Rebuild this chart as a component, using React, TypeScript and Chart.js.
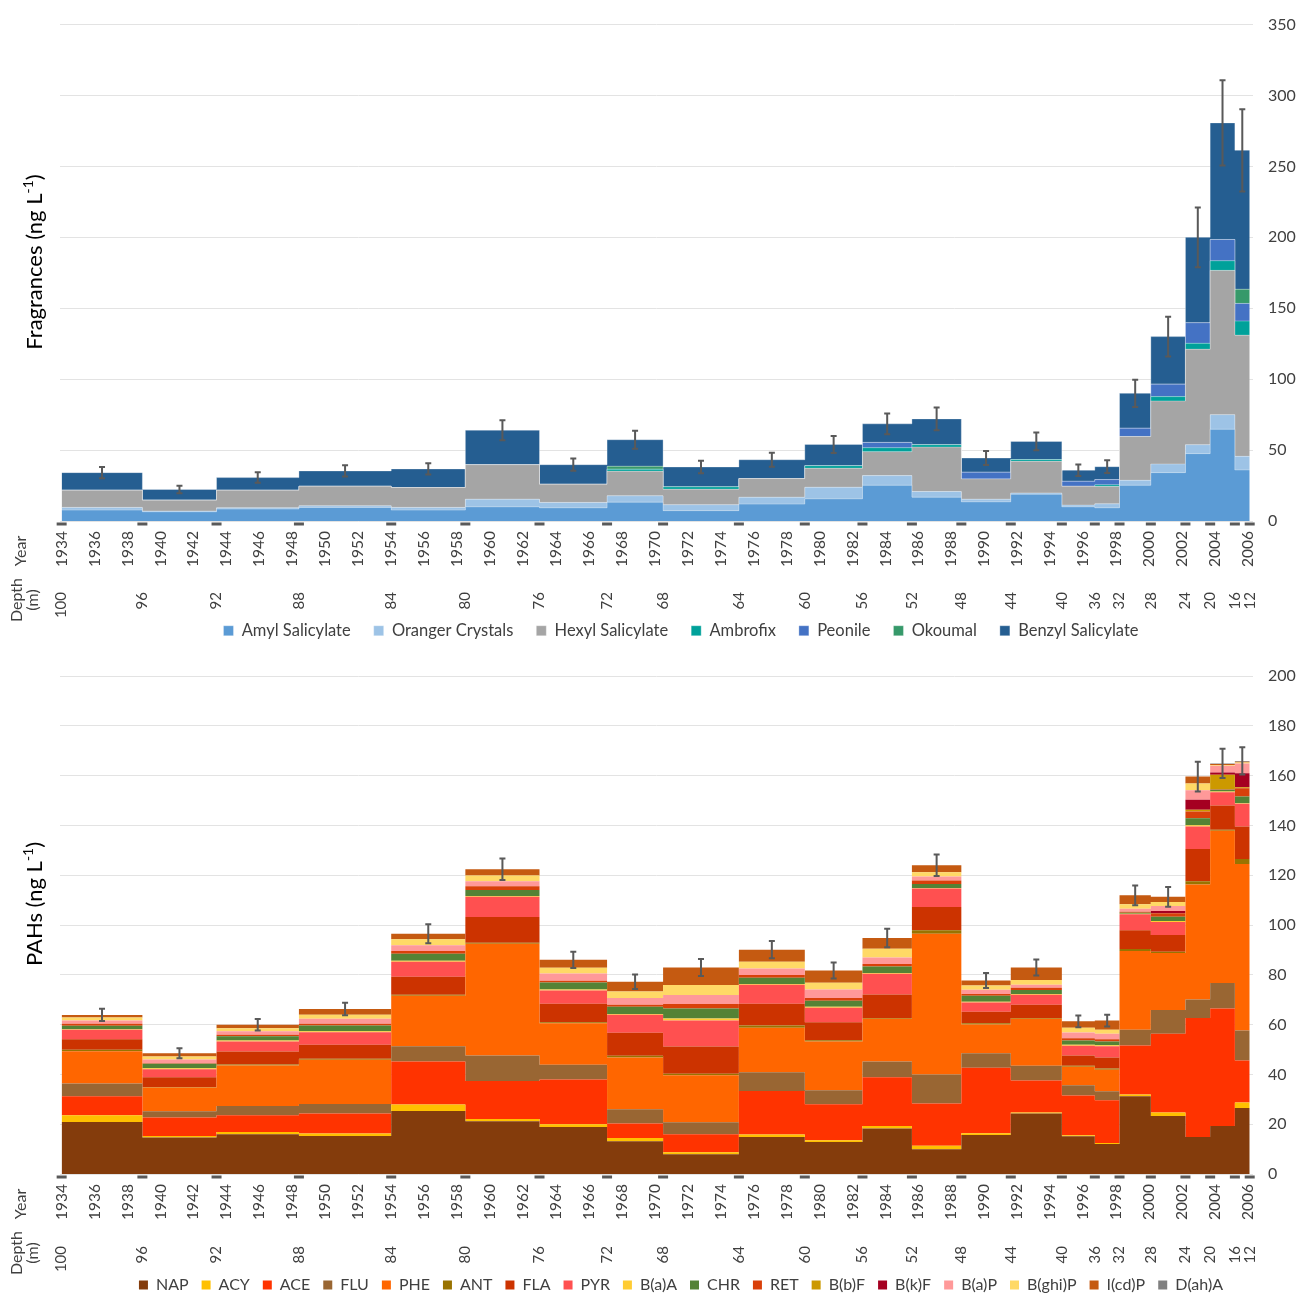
import React, { useEffect, useRef } from 'react';
import { Chart, registerables } from 'chart.js';

Chart.register(...registerables);
Chart.defaults.font.family = 'Lato, "Open Sans", sans-serif';

// ---- shared x data: sample boundaries (year) and depth labels ----
const sampleBounds = [1934, 1938.9, 1943.4, 1948.4, 1954.0, 1958.5, 1963.0, 1967.1, 1970.5, 1975.1, 1979.1, 1982.6, 1985.6, 1988.6, 1991.6, 1994.7, 1996.7, 1998.2, 2000.1, 2002.2, 2003.7, 2005.2, 2006.1];
const depthLabels = ['100', '96', '92', '88', '84', '80', '76', '72', '68', '64', '60', '56', '52', '48', '44', '40', '36', '32', '28', '24', '20', '16', '12'];
const yearLabels = ['1934', '1936', '1938', '1940', '1942', '1944', '1946', '1948', '1950', '1952', '1954', '1956', '1958', '1960', '1962', '1964', '1966', '1968', '1970', '1972', '1974', '1976', '1978', '1980', '1982', '1984', '1986', '1988', '1990', '1992', '1994', '1996', '1998', '2000', '2002', '2004', '2006'];

// ---- fragrances (ng/L), one value per sample interval ----
const fragranceNames = ['Amyl Salicylate', 'Oranger Crystals', 'Hexyl Salicylate', 'Ambrofix', 'Peonile', 'Okoumal', 'Benzyl Salicylate'];
const fragranceColors = ['#5B9BD5', '#9DC3E6', '#A5A5A5', '#00A19A', '#4472C4', '#36996A', '#255E91'];
const amylSalicylate = [7.7, 6.5, 8.4, 9.6, 7.7, 10, 9.3, 13.3, 7.3, 11.9, 15.6, 25.2, 16.8, 13.5, 18.9, 10, 9.3, 25.2, 34.1, 47.5, 64.7, 36];
const orangerCrystals = [1.9, 0.5, 0.9, 1.1, 1.9, 5.4, 3.8, 4.5, 4.2, 4.9, 8.2, 6.8, 4, 1.9, 0.9, 1.2, 2.8, 3.5, 6.1, 6.3, 10.3, 9.6];
const hexylSalicylate = [12.1, 7.7, 12.4, 13.8, 14, 24.3, 12.8, 17.3, 10.9, 13.1, 13.4, 16.9, 31.3, 14.3, 22.3, 13.3, 12.2, 30.9, 44.4, 67.3, 101.7, 85.4];
const ambrofix = [0, 0, 0, 0, 0, 0, 0, 1.4, 1.7, 0, 1.8, 2.8, 1.7, 0, 1.2, 0, 1.2, 0, 3.1, 4.2, 6.8, 10];
const peonile = [0, 0, 0, 0, 0, 0, 0, 0, 0, 0, 0, 3.7, 0, 4.7, 0, 3.5, 3.7, 5.8, 8.8, 14.5, 15, 12.4];
const okoumal = [0, 0, 0, 0, 0, 0, 0, 2.1, 0, 0, 0, 0, 0, 0, 0, 0, 0, 0, 0, 0, 0, 10];
const benzylSalicylate = [12.4, 7.5, 8.9, 10.8, 13.1, 24.3, 13.8, 18.7, 14, 13.3, 15, 13.1, 18.2, 10, 12.8, 7.8, 9.1, 24.6, 33.5, 60.2, 82.2, 98];
const fragranceErrors = [4, 2.7, 3.7, 4, 4, 7, 4.3, 6.3, 4.4, 5, 6, 7.3, 8, 5, 6.3, 4, 4.5, 9.6, 14, 21, 30, 29];

// ---- PAHs (ng/L) ----
const pahNames = ['NAP', 'ACY', 'ACE', 'FLU', 'PHE', 'ANT', 'FLA', 'PYR', 'B(a)A', 'CHR', 'RET', 'B(b)F', 'B(k)F', 'B(a)P', 'B(ghi)P', 'I(cd)P', 'D(ah)A'];
const pahColors = ['#843C0C', '#FFC000', '#FF3300', '#996633', '#FF6600', '#997300', '#CC3300', '#FF5050', '#FFCC33', '#548235', '#D9400A', '#CC9900', '#A50021', '#FF9999', '#FFD966', '#C55A11', '#808080'];
const nap = [20.9, 14.7, 16.0, 15.3, 25.3, 21.2, 18.9, 13.2, 7.9, 14.9, 12.9, 18.3, 9.9, 15.7, 24.3, 15.2, 12.0, 31.2, 23.3, 14.9, 19.3, 26.5];
const acy = [2.7, 0.6, 0.9, 1.0, 2.6, 0.9, 1.1, 1.3, 0.8, 1.0, 0.7, 1.0, 1.4, 0.7, 0.4, 0.4, 0.4, 0.7, 1.4, 0, 0, 2.2];
const ace = [7.6, 7.4, 6.7, 8.0, 17.3, 15.2, 18.0, 5.8, 7.3, 17.4, 14.4, 19.6, 17.0, 26.3, 12.9, 15.9, 17.2, 19.7, 31.6, 47.8, 47.2, 16.9];
const flu = [5.1, 2.5, 3.7, 3.8, 6.1, 10.3, 5.9, 5.7, 4.8, 7.6, 5.6, 6.3, 11.7, 5.8, 5.9, 4.1, 3.6, 6.3, 9.6, 7.4, 10.2, 12.0];
const phe = [13.0, 9.5, 16.3, 17.8, 20.3, 44.9, 16.6, 20.8, 18.9, 17.8, 19.6, 17.1, 56.5, 11.5, 18.8, 7.5, 8.7, 31.7, 22.9, 46.2, 61.2, 66.9];
const ant = [0.6, 0.2, 0.4, 0.4, 0.4, 0.4, 0.4, 0.7, 0.6, 0.9, 0.5, 0.4, 1.4, 0.5, 0.4, 0.4, 0.5, 0.8, 0.5, 1.3, 0.4, 2.0];
const fla = [4.2, 4.0, 5.2, 5.6, 7.2, 10.3, 7.5, 9.2, 10.9, 8.8, 7.2, 9.4, 9.3, 4.7, 5.3, 4.1, 4.4, 7.5, 6.7, 12.9, 9.7, 13.1];
const pyr = [3.8, 3.2, 4.0, 5.0, 6.0, 8.1, 5.3, 7.3, 10.4, 7.6, 5.9, 8.3, 7.5, 3.7, 4.0, 3.9, 4.5, 6.4, 5.2, 9.1, 5.3, 9.1];
const baa = [0.2, 0.4, 0.4, 0.4, 0.4, 0.3, 0.4, 0.3, 0.9, 0.3, 0.4, 0.3, 0.2, 0.3, 0.3, 0.4, 0.4, 0.2, 0.4, 0.5, 0.3, 0.2];
const chr = [1.4, 1.8, 1.7, 2.3, 2.9, 2.5, 2.8, 2.9, 4.0, 2.5, 2.4, 2.6, 1.6, 2.4, 1.6, 1.7, 1.5, 0.4, 1.7, 2.8, 0.7, 2.7];
const ret = [0.8, 0.2, 0.6, 0.7, 1.1, 1.5, 0.7, 0.8, 1.8, 1.1, 1.1, 1.0, 1.4, 0.7, 0.9, 0.9, 0.9, 0.4, 1.4, 2.7, 0.2, 3.3];
const bbf = [0, 0, 0, 0, 0, 0, 0, 0, 0, 0, 0, 0, 0, 0, 0, 0, 0, 0, 0, 0.7, 5.8, 0.4];
const bkf = [0, 0, 0, 0, 0, 0, 0, 0, 0, 0, 0, 0, 0, 0, 0, 0, 0, 0, 0.9, 4.0, 0.9, 5.6];
const bap = [1.3, 1.5, 1.4, 2.0, 2.3, 2.0, 2.9, 2.7, 3.6, 2.6, 3.4, 2.6, 1.6, 1.7, 1.2, 2.3, 2.2, 1.2, 2.0, 3.8, 2.8, 4.0];
const bghip = [1.3, 1.2, 1.2, 1.7, 2.4, 2.3, 2.3, 2.6, 4.0, 2.7, 2.7, 3.6, 1.7, 1.7, 1.9, 1.9, 1.6, 1.8, 1.6, 2.7, 0.3, 0.4];
const icdp = [1.0, 1.3, 1.4, 2.3, 2.2, 2.5, 3.2, 3.9, 7.0, 4.9, 4.9, 4.3, 2.8, 2.0, 5.0, 2.6, 3.7, 3.6, 2.1, 2.8, 0.4, 0.3];
const daha = [0, 0, 0, 0, 0, 0, 0, 0, 0, 0, 0, 0, 0, 0, 0, 0, 0, 0, 0, 0, 0.2, 0.3];
const pahErrors = [2.5, 2, 2.3, 2.5, 3.8, 4.3, 3.3, 2.9, 3.4, 3.5, 3.2, 3.7, 4.3, 3, 3.2, 2.4, 2.4, 4, 4, 6, 5.9, 5.5];

const fragranceSeries = [amylSalicylate, orangerCrystals, hexylSalicylate, ambrofix, peonile, okoumal, benzylSalicylate];
const pahSeries = [nap, acy, ace, flu, phe, ant, fla, pyr, baa, chr, ret, bbf, bkf, bap, bghip, icdp, daha];

const X_MIN = 1933.9;
const X_MAX = 2006.3;
const TEXT = '#404040';

function stepPoints(values: number[]) {
  const pts = values.map((v, i) => ({ x: sampleBounds[i], y: v }));
  pts.push({ x: sampleBounds[sampleBounds.length - 1], y: values[values.length - 1] });
  return pts;
}

type Cfg = {
  height: number;
  top: number;
  names: string[];
  colors: string[];
  series: number[][];
  errors: number[];
  yMax: number;
  yStep: number;
  title: string;
  titleY: number;
  legendPad: number;
  legendBox: number;
  legendFont: number;
  xAxisH: number;
  depthH: number;
  outline: boolean;
};

function makeDecor(cfg: Cfg) {
  return {
    id: 'decor',
    afterDatasetsDraw(chart: any) {
      const { ctx, chartArea } = chart;
      const xs = chart.scales.x;
      const ys = chart.scales.y;
      ctx.save();
      // depth boundary marks
      ctx.strokeStyle = '#595959';
      ctx.lineWidth = 3;
      sampleBounds.forEach((b) => {
        const px = xs.getPixelForValue(b);
        ctx.beginPath();
        ctx.moveTo(px - 5, chartArea.bottom + 3);
        ctx.lineTo(px + 5, chartArea.bottom + 3);
        ctx.stroke();
      });
      // error bars at top of each stack
      ctx.lineWidth = 2;
      for (let i = 0; i < sampleBounds.length - 1; i++) {
        let total = 0;
        cfg.series.forEach((s) => { total += s[i]; });
        const px = xs.getPixelForValue((sampleBounds[i] + sampleBounds[i + 1]) / 2);
        const hi = ys.getPixelForValue(total + cfg.errors[i]);
        const lo = ys.getPixelForValue(total - cfg.errors[i]);
        ctx.beginPath();
        ctx.moveTo(px, hi); ctx.lineTo(px, lo);
        ctx.moveTo(px - 3, hi); ctx.lineTo(px + 3, hi);
        ctx.moveTo(px - 3, lo); ctx.lineTo(px + 3, lo);
        ctx.stroke();
      }
      ctx.restore();
    },
    afterDraw(chart: any) {
      const { ctx, chartArea } = chart;
      ctx.save();
      // y title with superscript
      ctx.translate(35, cfg.titleY);
      ctx.rotate(-Math.PI / 2);
      ctx.textBaseline = 'middle';
      ctx.textAlign = 'left';
      ctx.fillStyle = '#000';
      const big = '22px Lato, sans-serif';
      const small = '14px Lato, sans-serif';
      const main = cfg.title + ' (ng L';
      ctx.font = big;
      const w1 = ctx.measureText(main).width;
      const w3 = ctx.measureText(')').width;
      ctx.font = small;
      const w2 = ctx.measureText('-1').width;
      const x0 = -(w1 + w2 + w3) / 2;
      ctx.font = big;
      ctx.fillText(main, x0, 0);
      ctx.font = small;
      ctx.fillText('-1', x0 + w1, -7);
      ctx.font = big;
      ctx.fillText(')', x0 + w1 + w2, 0);
      ctx.restore();

      ctx.save();
      ctx.fillStyle = TEXT;
      ctx.font = '16px Lato, sans-serif';
      ctx.textAlign = 'center';
      ctx.textBaseline = 'middle';
      const drawRot = (t: string, x: number, y: number) => {
        ctx.save();
        ctx.translate(x, y);
        ctx.rotate(-Math.PI / 2);
        ctx.fillText(t, 0, 0);
        ctx.restore();
      };
      drawRot('Year', 21, chartArea.bottom + 30);
      drawRot('Depth', 17, chartArea.bottom + 79);
      drawRot('(m)', 33, chartArea.bottom + 79);
      ctx.restore();
    },
  };
}

function buildConfig(cfg: Cfg): any {
  const datasets = cfg.names.map((name, k) => ({
    label: name,
    data: stepPoints(cfg.series[k]),
    backgroundColor: cfg.colors[k],
    borderColor: cfg.outline ? 'rgba(255,255,255,0.3)' : 'rgba(0,0,0,0)',
    borderWidth: cfg.outline ? 1 : 0,
    fill: k === 0 ? 'origin' : '-1',
    stepped: 'before',
    pointRadius: 0,
    pointHoverRadius: 0,
    tension: 0,
  }));
  return {
    type: 'line',
    data: { datasets },
    options: {
      responsive: false,
      animation: false,
      events: [],
      layout: { padding: { left: 60, top: cfg.top, right: 0, bottom: 0 } },
      scales: {
        x: {
          type: 'linear',
          position: 'bottom',
          weight: 0,
          min: X_MIN,
          max: X_MAX,
          grid: { display: false, drawTicks: false },
          border: { display: false },
          afterBuildTicks: (ax: any) => { ax.ticks = yearLabels.map((v) => ({ value: Number(v) })); },
          afterFit: (ax: any) => { ax.height = cfg.xAxisH; },
          ticks: {
            autoSkip: false,
            minRotation: 90,
            maxRotation: 90,
            padding: 10,
            color: TEXT,
            font: { size: 15.5 },
            callback: (_v: any, i: number) => yearLabels[i],
          },
        },
        depth: {
          type: 'linear',
          position: 'bottom',
          weight: 1,
          min: X_MIN,
          max: X_MAX,
          grid: { display: false, drawTicks: false },
          border: { display: false },
          afterBuildTicks: (ax: any) => { ax.ticks = sampleBounds.map((v) => ({ value: v })); },
          afterFit: (ax: any) => {
            ax.height = cfg.depthH;
            // let the rotated depth labels extend below the axis box
            ax._computeLabelArea = () => undefined;
          },
          ticks: {
            autoSkip: false,
            minRotation: 90,
            maxRotation: 90,
            padding: 9,
            color: TEXT,
            font: { size: 15 },
            callback: (_v: any, i: number) => depthLabels[i],
          },
        },
        y: {
          type: 'linear',
          position: 'right',
          stacked: true,
          min: 0,
          max: cfg.yMax,
          afterFit: (ax: any) => { ax.width = 49; },
          grid: { color: '#E3E3E3', lineWidth: 1, drawTicks: false },
          border: { display: false },
          ticks: { stepSize: cfg.yStep, padding: 15, color: TEXT, font: { size: 16 } },
        },
      },
      plugins: {
        legend: {
          position: 'bottom',
          labels: {
            boxWidth: cfg.legendBox,
            boxHeight: cfg.legendBox,
            padding: cfg.legendPad,
            color: TEXT,
            font: { size: cfg.legendFont },
          },
        },
        tooltip: { enabled: false },
      },
    },
    plugins: [makeDecor(cfg)],
  };
}

function StackChart({ cfg }: { cfg: Cfg }) {
  const ref = useRef<HTMLCanvasElement>(null);
  useEffect(() => {
    if (!ref.current) return;
    const chart = new Chart(ref.current, buildConfig(cfg));
    return () => chart.destroy();
  }, [cfg]);
  return (
    <canvas
      ref={ref}
      width={1302}
      height={cfg.height}
      style={{ display: 'block', width: 1302, height: cfg.height }}
    />
  );
}

const topCfg: Cfg = {
  height: 649,
  top: 22,
  names: fragranceNames,
  colors: fragranceColors,
  series: fragranceSeries,
  errors: fragranceErrors,
  yMax: 350,
  yStep: 50,
  title: 'Fragrances',
  titleY: 262,
  legendPad: 23,
  legendBox: 10,
  legendFont: 16.5,
  xAxisH: 62,
  depthH: 16.5,
  outline: true,
};

const bottomCfg: Cfg = {
  height: 654,
  top: 27,
  names: pahNames,
  colors: pahColors,
  series: pahSeries,
  errors: pahErrors,
  yMax: 200,
  yStep: 20,
  title: 'PAHs',
  titleY: 255,
  legendPad: 13,
  legendBox: 9,
  legendFont: 16,
  xAxisH: 63,
  depthH: 27,
  outline: false,
};

export default function App() {
  return (
    <div style={{ position: 'absolute', left: 0, top: 0, width: 1302, height: 1295, overflow: 'hidden', background: '#fff' }}>
      <StackChart cfg={topCfg} />
      <StackChart cfg={bottomCfg} />
    </div>
  );
}
